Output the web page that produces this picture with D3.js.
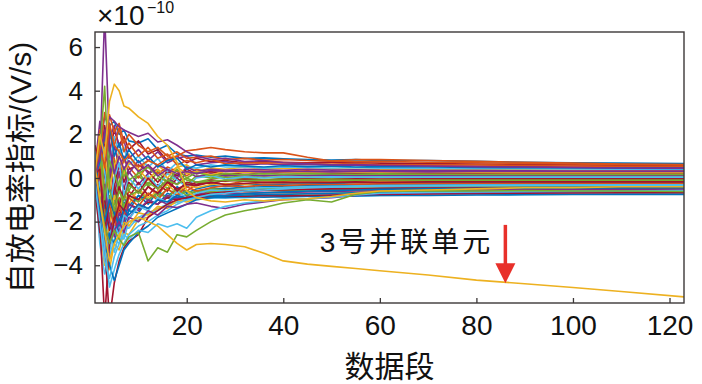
<!DOCTYPE html>
<html><head><meta charset="utf-8">
<script src="https://cdn.jsdelivr.net/npm/d3@7"></script>
<style>body{margin:0;background:#fff} svg{display:block}</style>
</head><body><svg id="c" width="702" height="384"></svg>
<script>
// data segment index (x) at which each value is sampled
const segments = [1,2,3,4,5,6,7,8,10,12,14,16,18,20,22,25,28,32,36,40,45,50,55,60,70,80,90,100,110,123];
const xTicks = [20,40,60,80,100,120];
const yTicks = [-4,-2,0,2,4,6];
const palette = ['#0072BD','#D95319','#EDB120','#7E2F8E','#77AC30','#4DBEEE','#A2142F'];

// ordinary parallel units (self-discharge rate index, ×1e-10 V/s)
const g01=[0.3,1.5,2.8,2.4,2.6,2.0,2.2,1.7,1.6,1.8,1.3,1.5,1.1,1.0,1.05,0.95,1.0,0.9,0.92,0.88,0.85,0.82,0.84,0.8,0.8,0.76,0.72,0.7,0.68,0.66];
const g02=[-0.2,2.2,1.6,2.9,2.1,2.5,1.6,2.0,1.5,1.2,1.4,1.0,1.2,0.9,0.95,1.0,0.85,0.9,0.82,0.85,0.8,0.78,0.75,0.76,0.72,0.7,0.66,0.64,0.62,0.6];
const g03=[0.8,0.5,2.4,1.2,2.2,1.5,1.9,1.3,1.7,1.1,1.3,0.8,1.0,0.7,0.9,0.75,0.8,0.7,0.75,0.72,0.7,0.74,0.7,0.68,0.66,0.64,0.62,0.6,0.58,0.56];
const g04=[0.0,1.0,3.0,2.0,1.5,2.3,1.2,1.6,1.0,1.4,0.9,1.1,0.6,0.8,0.7,0.85,0.65,0.7,0.68,0.7,0.66,0.64,0.66,0.62,0.6,0.6,0.57,0.55,0.53,0.52];
const g05=[0.5,2.6,0.8,1.8,2.4,1.4,1.7,0.9,1.3,0.8,1.2,0.7,0.9,1.0,0.6,0.7,0.75,0.6,0.65,0.6,0.62,0.58,0.6,0.56,0.55,0.54,0.52,0.5,0.5,0.48];
const g06=[-0.5,0.8,1.9,2.5,1.0,1.6,0.8,1.3,0.7,1.0,0.5,0.8,0.9,0.4,0.6,0.5,0.6,0.55,0.5,0.56,0.52,0.55,0.5,0.52,0.5,0.48,0.47,0.46,0.45,0.44];
const g07=[1.2,-0.5,1.4,0.6,1.9,1.1,1.4,0.6,1.0,0.5,0.9,0.3,0.7,0.5,0.45,0.6,0.5,0.52,0.45,0.5,0.48,0.46,0.48,0.45,0.44,0.43,0.42,0.41,0.4,0.4];
const g08=[0.2,1.8,-0.8,1.0,0.4,1.3,0.7,1.1,0.3,0.8,0.6,0.2,0.5,0.6,0.3,0.45,0.4,0.5,0.42,0.45,0.4,0.42,0.4,0.41,0.38,0.38,0.37,0.36,0.36,0.36];
const g09=[-0.8,0.3,2.2,0.0,1.5,0.5,1.0,0.2,0.8,0.2,0.6,0.4,0.0,0.5,0.3,0.4,0.35,0.4,0.38,0.35,0.4,0.36,0.38,0.35,0.34,0.34,0.33,0.32,0.32,0.32];
const g10=[0.6,1.4,0.2,2.3,0.8,0.0,0.9,0.5,0.0,0.6,0.2,0.5,0.3,0.1,0.4,0.25,0.35,0.3,0.32,0.3,0.33,0.3,0.32,0.3,0.3,0.29,0.28,0.28,0.28,0.28];
const g11=[0.0,-1.2,1.0,-0.5,0.6,1.0,0.2,0.7,0.4,-0.1,0.4,0.0,0.5,0.2,0.3,0.15,0.3,0.25,0.3,0.28,0.25,0.28,0.26,0.27,0.25,0.25,0.24,0.24,0.24,0.24];
const g12=[1.5,0.5,1.6,0.3,-0.4,0.6,-0.2,0.4,0.6,0.3,-0.2,0.3,0.1,0.4,0.2,0.3,0.15,0.25,0.2,0.25,0.22,0.2,0.23,0.22,0.21,0.2,0.2,0.2,0.2,0.2];
const g13=[-0.3,2.0,-1.0,0.8,0.2,-0.5,0.5,-0.1,0.2,0.5,0.1,-0.2,0.4,0.0,0.25,0.1,0.2,0.15,0.2,0.17,0.2,0.18,0.17,0.19,0.17,0.16,0.16,0.16,0.16,0.16];
const g14=[0.4,-0.8,0.6,1.5,-0.8,0.3,-0.5,0.3,-0.3,0.2,0.4,0.0,-0.3,0.3,0.05,0.2,0.1,0.15,0.1,0.15,0.12,0.14,0.12,0.13,0.12,0.12,0.12,0.12,0.12,0.12];
const g15=[0.0,0.8,-1.8,-0.3,0.9,-0.6,0.2,-0.4,0.1,-0.3,0.3,-0.2,0.2,-0.3,0.1,0.0,0.12,0.05,0.1,0.08,0.1,0.07,0.09,0.08,0.08,0.08,0.08,0.08,0.08,0.08];
const g16=[-1.0,1.0,0.3,-1.5,0.0,0.7,-0.8,0.0,-0.5,0.1,-0.4,0.2,-0.1,-0.4,0.0,0.1,-0.05,0.05,0.0,0.05,0.03,0.05,0.04,0.04,0.04,0.04,0.04,0.04,0.04,0.04];
const g17=[0.7,-1.8,-0.5,1.2,-1.0,-0.2,0.5,-0.6,0.3,-0.4,0.0,-0.5,0.2,-0.1,-0.2,-0.05,0.05,-0.05,0.02,-0.02,0.0,-0.02,0.0,0.01,0.0,0.0,0.0,0.0,0.0,0.0];
const g18=[0.2,0.4,-2.4,-1.0,-1.6,-0.4,-1.0,-0.2,-0.7,0.0,-0.5,-0.1,-0.6,-0.2,-0.3,-0.1,-0.15,-0.05,-0.1,-0.06,-0.05,-0.07,-0.04,-0.05,-0.04,-0.04,-0.04,-0.04,-0.04,-0.04];
const g19=[-0.6,-2.5,0.5,-2.0,-0.3,-1.3,-0.4,-0.9,-0.2,-0.8,-0.3,-0.6,0.0,-0.4,-0.2,-0.25,-0.1,-0.15,-0.1,-0.12,-0.08,-0.1,-0.09,-0.08,-0.08,-0.08,-0.08,-0.08,-0.08,-0.08];
const g20=[1.0,0.0,-1.2,0.3,-1.9,-0.9,-1.4,-0.6,-1.0,-0.4,-0.8,-0.2,-0.5,-0.6,-0.3,-0.2,-0.3,-0.15,-0.2,-0.15,-0.14,-0.15,-0.13,-0.12,-0.12,-0.12,-0.12,-0.12,-0.12,-0.12];
const g21=[-0.2,-0.9,-3.0,-2.2,-0.8,-1.6,-0.7,-1.2,-0.5,-0.9,-0.6,-0.3,-0.7,-0.3,-0.45,-0.3,-0.25,-0.3,-0.2,-0.22,-0.2,-0.18,-0.2,-0.17,-0.16,-0.16,-0.16,-0.16,-0.16,-0.16];
const g22=[0.4,-2.0,-0.8,-2.8,-1.5,-2.0,-1.1,-1.5,-0.8,-1.2,-0.6,-0.9,-0.4,-0.7,-0.5,-0.35,-0.4,-0.3,-0.3,-0.28,-0.25,-0.26,-0.22,-0.22,-0.21,-0.2,-0.2,-0.2,-0.2,-0.2];
const g23=[-0.8,0.5,-2.0,-1.2,-2.4,-1.3,-1.8,-0.9,-1.3,-0.7,-1.0,-0.5,-0.8,-0.4,-0.6,-0.45,-0.35,-0.4,-0.32,-0.35,-0.3,-0.3,-0.28,-0.27,-0.26,-0.25,-0.25,-0.24,-0.24,-0.24];
const g24=[0.0,-1.4,-3.8,-2.6,-3.0,-2.0,-2.2,-1.5,-1.6,-1.0,-1.2,-0.7,-0.9,-0.8,-0.6,-0.5,-0.5,-0.42,-0.4,-0.38,-0.35,-0.34,-0.32,-0.31,-0.3,-0.29,-0.28,-0.28,-0.28,-0.28];
const g25=[0.5,-1.0,-2.6,-3.4,-2.2,-2.6,-1.7,-1.9,-1.3,-1.5,-0.9,-1.1,-0.6,-0.9,-0.7,-0.55,-0.6,-0.48,-0.45,-0.44,-0.4,-0.38,-0.37,-0.35,-0.34,-0.33,-0.32,-0.32,-0.32,-0.32];
const g26=[-0.4,1.0,-1.5,-0.8,-2.0,-1.0,-1.4,-0.8,-1.1,-0.7,-0.9,-0.5,-0.8,-0.6,-0.7,-0.5,-0.55,-0.5,-0.48,-0.46,-0.44,-0.42,-0.41,-0.4,-0.38,-0.37,-0.36,-0.36,-0.36,-0.36];
const g27=[0.3,-2.8,-1.6,-3.2,-1.8,-2.5,-1.5,-1.9,-1.2,-1.4,-1.0,-1.2,-0.8,-0.9,-0.75,-0.65,-0.7,-0.6,-0.58,-0.55,-0.52,-0.5,-0.48,-0.46,-0.44,-0.42,-0.41,-0.4,-0.4,-0.4];
const g28=[-0.3,0.8,-0.6,-1.8,-1.2,-0.5,-1.3,-0.8,-0.6,-1.0,-0.7,-0.9,-0.5,-0.8,-0.6,-0.65,-0.6,-0.62,-0.55,-0.58,-0.55,-0.53,-0.52,-0.5,-0.48,-0.47,-0.46,-0.45,-0.44,-0.44];
const g29=[0.2,-0.5,-3.3,-4.2,-3.0,-3.3,-2.5,-2.6,-1.9,-1.8,-1.4,-1.3,-1.1,-1.0,-0.9,-0.85,-0.8,-0.7,-0.68,-0.65,-0.62,-0.6,-0.58,-0.56,-0.53,-0.51,-0.5,-0.49,-0.48,-0.48];
const g30=[-0.7,-1.5,-0.3,-2.0,-2.7,-1.6,-2.0,-1.2,-1.5,-1.0,-1.2,-0.8,-0.95,-0.9,-0.8,-0.75,-0.72,-0.7,-0.68,-0.66,-0.64,-0.62,-0.6,-0.6,-0.57,-0.55,-0.54,-0.53,-0.52,-0.52];
const g31=[0.6,-2.2,-4.0,-3.0,-2.4,-2.8,-2.0,-2.2,-1.6,-1.7,-1.3,-1.4,-1.0,-1.1,-0.95,-0.85,-0.88,-0.8,-0.78,-0.74,-0.72,-0.7,-0.67,-0.65,-0.62,-0.6,-0.58,-0.57,-0.56,-0.56];
const g32=[-0.1,-1.0,-2.0,-1.0,-1.6,-2.2,-1.4,-1.7,-1.2,-1.4,-1.0,-1.1,-0.8,-0.95,-0.85,-0.8,-0.82,-0.78,-0.76,-0.75,-0.72,-0.7,-0.68,-0.66,-0.64,-0.63,-0.62,-0.61,-0.6,-0.6];
const g33=[0.0,-3.0,-4.4,-3.6,-2.8,-3.0,-2.3,-2.3,-1.8,-1.6,-1.4,-1.2,-1.1,-1.0,-0.95,-0.9,-0.88,-0.85,-0.82,-0.8,-0.78,-0.76,-0.74,-0.72,-0.7,-0.68,-0.66,-0.65,-0.64,-0.64];
const g34=[0.8,0.0,-1.0,-2.4,-1.8,-1.4,-1.9,-1.2,-1.4,-1.1,-1.2,-0.9,-1.0,-0.85,-0.9,-0.85,-0.82,-0.84,-0.8,-0.82,-0.8,-0.78,-0.76,-0.75,-0.73,-0.71,-0.7,-0.69,-0.68,-0.68];
const g35=[-0.5,-1.8,-2.8,-2.0,-3.4,-2.6,-2.8,-2.0,-2.0,-1.6,-1.5,-1.2,-1.1,-0.95,-1.0,-0.92,-0.9,-0.9,-0.86,-0.88,-0.85,-0.84,-0.82,-0.8,-0.78,-0.76,-0.75,-0.74,-0.73,-0.72];
const g36=[0.1,-0.6,-1.4,-0.5,-1.0,-1.5,-0.9,-1.3,-0.8,-1.0,-0.7,-0.9,-1.0,-0.8,-0.9,-0.88,-0.9,-0.86,-0.88,-0.85,-0.84,-0.82,-0.82,-0.8,-0.8,-0.78,-0.77,-0.76,-0.75,-0.75];

// units that stand out
const purpleSpike=[0.5,0.8,7.5,1.5,0.2,1.0,0.4,0.8,0.3,0.6,0.1,0.4,0.2,0.3,0.2,0.35,0.3,0.32,0.28,0.3,0.3,0.28,0.3,0.3,0.28,0.3,0.3,0.3,0.3,0.3];
const greenSpike=[0.0,1.2,4.2,-0.5,-1.5,-0.6,-1.0,-0.3,-0.7,-0.2,-0.5,-0.1,-0.3,0.0,-0.2,-0.15,-0.1,-0.12,-0.1,-0.1,-0.08,-0.1,-0.1,-0.09,-0.1,-0.1,-0.1,-0.1,-0.1,-0.1];
const redDipA=[0.0,-2.0,-6.5,-3.0,-2.0,-1.2,-1.5,-0.8,-1.0,-0.4,-0.7,-0.2,-0.5,-0.3,-0.35,-0.2,-0.3,-0.25,-0.2,-0.22,-0.2,-0.2,-0.18,-0.2,-0.18,-0.18,-0.18,-0.18,-0.18,-0.18];
const redDipB=[0.5,-1.0,-3.0,-6.5,-4.8,-3.8,-3.2,-2.9,-2.6,-1.8,-1.5,-1.2,-1.0,-0.9,-0.8,-0.7,-0.65,-0.6,-0.55,-0.55,-0.52,-0.5,-0.5,-0.48,-0.47,-0.46,-0.46,-0.45,-0.45,-0.45];
const cyanDip=[0.0,-1.0,-3.2,-5.0,-4.2,-3.5,-3.0,-2.6,-2.2,-2.0,-1.7,-1.5,-1.2,-1.0,-0.9,-0.75,-0.7,-0.6,-0.55,-0.5,-0.45,-0.42,-0.4,-0.38,-0.36,-0.35,-0.34,-0.34,-0.33,-0.33];
const blueDip=[-0.3,-1.5,-2.5,-4.0,-4.7,-4.0,-3.3,-3.0,-2.5,-2.2,-1.8,-1.6,-1.4,-1.2,-1.0,-0.9,-0.8,-0.72,-0.68,-0.65,-0.6,-0.58,-0.55,-0.52,-0.5,-0.48,-0.47,-0.46,-0.46,-0.45];
const purpleLow=[0.2,-1.2,-2.2,-3.0,-2.4,-2.0,-2.5,-1.8,-2.0,-1.5,-1.7,-1.3,-1.35,-1.2,-1.15,-1.3,-1.4,-1.2,-1.1,-1.0,-0.95,-0.9,-0.8,-0.72,-0.68,-0.66,-0.64,-0.62,-0.6,-0.6];
const cyanLow=[-0.2,-2.0,-3.8,-4.6,-3.6,-3.0,-2.6,-2.8,-2.4,-2.5,-2.1,-2.25,-2.1,-2.3,-1.8,-1.5,-1.3,-1.15,-1.05,-0.95,-0.95,-0.88,-0.78,-0.7,-0.66,-0.64,-0.62,-0.6,-0.6,-0.58];
const greenLow=[0.5,-1.0,-2.2,-3.0,-2.4,-2.8,-3.1,-2.7,-2.5,-3.8,-3.2,-3.4,-2.6,-2.7,-2.4,-2.0,-1.7,-1.5,-1.35,-1.15,-1.0,-1.1,-0.75,-0.62,-0.58,-0.6,-0.58,-0.6,-0.6,-0.62];
const redUpper=[0.2,1.5,0.5,2.5,1.5,1.2,0.8,1.0,0.5,0.8,0.6,0.9,1.0,1.25,1.3,1.4,1.3,1.2,1.15,1.15,0.95,0.78,0.85,0.85,0.8,0.76,0.72,0.68,0.64,0.62];
const purpleUpper=[0.0,1.0,2.0,2.8,2.6,2.35,2.2,2.1,1.9,2.05,1.65,1.75,1.5,1.2,1.0,0.85,0.9,0.75,0.8,0.7,0.65,0.6,0.62,0.58,0.55,0.52,0.5,0.48,0.46,0.45];
const yellowHigh=[0.3,2.0,1.0,3.5,4.3,4.0,3.3,3.2,2.8,2.5,1.9,1.5,0.7,-0.6,-0.9,-1.05,-1.1,-1.0,-1.05,-1.0,-0.95,-0.85,-0.7,-0.6,-0.55,-0.5,-0.45,-0.45,-0.4,-0.4];
const unit3=[0.5,-1.0,-2.5,-3.8,-3.0,-2.6,-2.2,-2.0,-1.8,-2.0,-2.2,-2.6,-3.0,-3.3,-3.05,-3.0,-3.05,-3.15,-3.45,-3.8,-3.95,-4.05,-4.15,-4.25,-4.45,-4.68,-4.85,-5.02,-5.2,-5.45];

const generic=[g01,g20,g08,g27,g15,g33,g03,g22,g10,g29,g05,g17,g35,g12,g24,g02,g31,g14,g26,g07,g19,g36,g04,g21,g09,g28,g16,g34,g06,g23,g11,g30,g13,g25,g18,g32];
const special=[purpleSpike,greenSpike,redDipA,redDipB,cyanDip,blueDip,purpleLow,cyanLow,greenLow,redUpper,purpleUpper,yellowHigh,unit3];
const specialColors=['#7E2F8E','#77AC30','#A2142F','#A2142F','#4DBEEE','#0072BD','#7E2F8E','#4DBEEE','#77AC30','#D95319','#7E2F8E','#EDB120','#EDB120'];

const annLabel='3号并联单元';
const annX=86, annTop=-2.15, annTip=-4.83;
const yLabel='自放电率指标/(V/s)';
const xLabel='数据段';

const m={l:95,r:684,t:32,b:303};
const x=d3.scaleLinear().domain([1,123]).range([m.l,m.r]);
const y=d3.scaleLinear().domain([-5.73,6.69]).range([m.b,m.t]);
const svg=d3.select('#c');
const NUM="'Liberation Sans', Arial, sans-serif";
const CJK="'Liberation Sans','Noto Sans CJK SC', sans-serif";

svg.append('defs').append('clipPath').attr('id','clip').append('rect')
  .attr('x',m.l).attr('y',m.t).attr('width',m.r-m.l).attr('height',m.b-m.t);
const line=d3.line().x((d,i)=>x(segments[i])).y(d=>y(d));
const g=svg.append('g').attr('clip-path','url(#clip)');
generic.forEach((s,i)=>g.append('path').attr('d',line(s)).attr('fill','none')
  .attr('stroke',palette[i%7]).attr('stroke-width',1.6).attr('stroke-linejoin','round'));
special.forEach((s,i)=>g.append('path').attr('d',line(s)).attr('fill','none')
  .attr('stroke',specialColors[i]).attr('stroke-width',1.6).attr('stroke-linejoin','round'));

// axes
const axC='#3c3838';
const xa=svg.append('g').attr('transform',`translate(0,${m.b})`)
  .call(d3.axisBottom(x).tickValues(xTicks).tickSize(-5).tickPadding(12));
xa.select('.domain').remove();
xa.selectAll('line').attr('stroke',axC).attr('stroke-width',1.3);
xa.selectAll('text').attr('font-family',NUM).attr('font-size',28).attr('fill','#111');
const ya=svg.append('g').attr('transform',`translate(${m.l},0)`)
  .call(d3.axisLeft(y).tickValues(yTicks).tickSize(-5).tickPadding(12));
ya.select('.domain').remove();
ya.selectAll('line').attr('stroke',axC).attr('stroke-width',1.3);
ya.selectAll('text').attr('font-family',NUM).attr('font-size',26).attr('fill','#111');
svg.append('rect').attr('x',m.l).attr('y',m.t).attr('width',m.r-m.l).attr('height',m.b-m.t)
  .attr('fill','none').attr('stroke',axC).attr('stroke-width',1.4);

// exponent
svg.append('text').attr('x',m.l+2).attr('y',m.t-7).attr('font-family',NUM).attr('font-size',28).attr('fill','#111').text('×10');
svg.append('text').attr('x',m.l+52).attr('y',m.t-19).attr('font-family',NUM).attr('font-size',16).attr('fill','#111').text('−10');

// labels
svg.append('text').attr('transform',`translate(31,${(m.t+m.b)/2}) rotate(-90)`).attr('text-anchor','middle')
  .attr('font-family',CJK).attr('font-size',30).attr('fill','#111').text(yLabel);
svg.append('text').attr('x',(m.l+m.r)/2).attr('y',377).attr('text-anchor','middle')
  .attr('font-family',CJK).attr('font-size',30).attr('fill','#111').text(xLabel);

// annotation
const ac='#E8302A';
const ax=x(annX);
svg.append('line').attr('x1',ax).attr('x2',ax).attr('y1',y(annTop)).attr('y2',y(annTip)-16)
  .attr('stroke',ac).attr('stroke-width',3.5);
svg.append('path').attr('d',`M${ax-10},${y(annTip)-20}L${ax+10},${y(annTip)-20}L${ax},${y(annTip)}Z`).attr('fill',ac);
svg.append('text').attr('x',ax-12).attr('y',y(annTop)+27).attr('text-anchor','end')
  .attr('font-family',CJK).attr('font-size',28).attr('letter-spacing',3).attr('fill','#111').text(annLabel);
</script></body></html>
